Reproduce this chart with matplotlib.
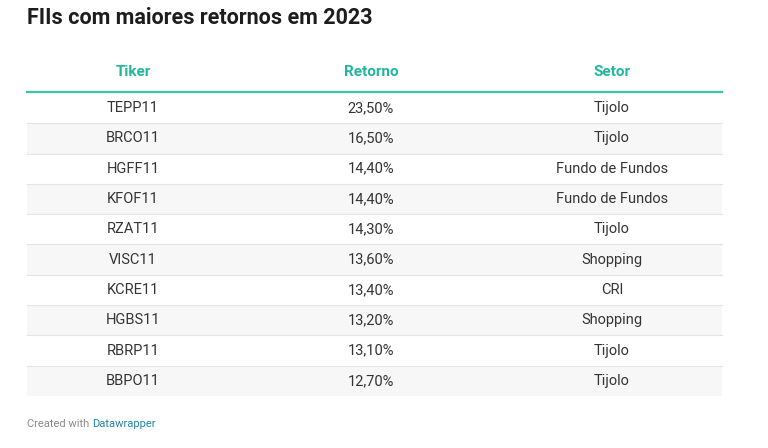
import matplotlib.pyplot as plt
from matplotlib.patches import Rectangle

tickers = ['TEPP11', 'BRCO11', 'HGFF11', 'KFOF11', 'RZAT11',
           'VISC11', 'KCRE11', 'HGBS11', 'RBRP11', 'BBPO11']
returns = ['23,50%', '16,50%', '14,40%', '14,40%', '14,30%',
           '13,60%', '13,40%', '13,20%', '13,10%', '12,70%']
sectors = ['Tijolo', 'Tijolo', 'Fundo de Fundos', 'Fundo de Fundos', 'Tijolo',
           'Shopping', 'CRI', 'Shopping', 'Tijolo', 'Tijolo']
headers = ['Tiker', 'Retorno', 'Setor']

plt.rcParams['font.family'] = 'Roboto'
fig = plt.figure(figsize=(7.68, 4.48), dpi=100)
ax = fig.add_axes([0, 0, 1, 1])
ax.set_xlim(0, 768)
ax.set_ylim(448, 0)
ax.axis('off')

teal = '#22b79a'
col_x = [133, 371, 612]
left, right = 27, 722
top, row_h = 93, 30.3

ax.text(27, 18, 'FIIs com maiores retornos em 2023', fontsize=15.5, fontweight='bold',
        color='#1d1d1d', va='center', ha='left')

for x, h in zip(col_x, headers):
    ax.text(x, 72, h, fontsize=11, fontweight='bold', color=teal, ha='center', va='center')

for i, row in enumerate(zip(tickers, returns, sectors)):
    y0 = top + i * row_h
    if i % 2 == 1:
        ax.add_patch(Rectangle((left, y0), right - left, row_h, color='#f7f7f7', lw=0))
    if i > 0:
        ax.plot([left, right], [y0, y0], color='#e4e4e4', lw=0.8)
    for x, v in zip(col_x, row):
        ax.text(x, y0 + row_h / 2, v, fontsize=10.5, color='#333333', ha='center', va='center')
ax.plot([left, right], [top - 0.5, top - 0.5], color='#3cc4a4', lw=1.6)

t = ax.text(27, 424, 'Created with ', fontsize=8, color='#888888', va='center', ha='left')
fig.canvas.draw()
bb = t.get_window_extent().transformed(ax.transData.inverted())
ax.text(bb.x1, 424, 'Datawrapper', fontsize=8, color='#1d81a2', va='center', ha='left')

fig.savefig('out.png', dpi=100, facecolor='white')
